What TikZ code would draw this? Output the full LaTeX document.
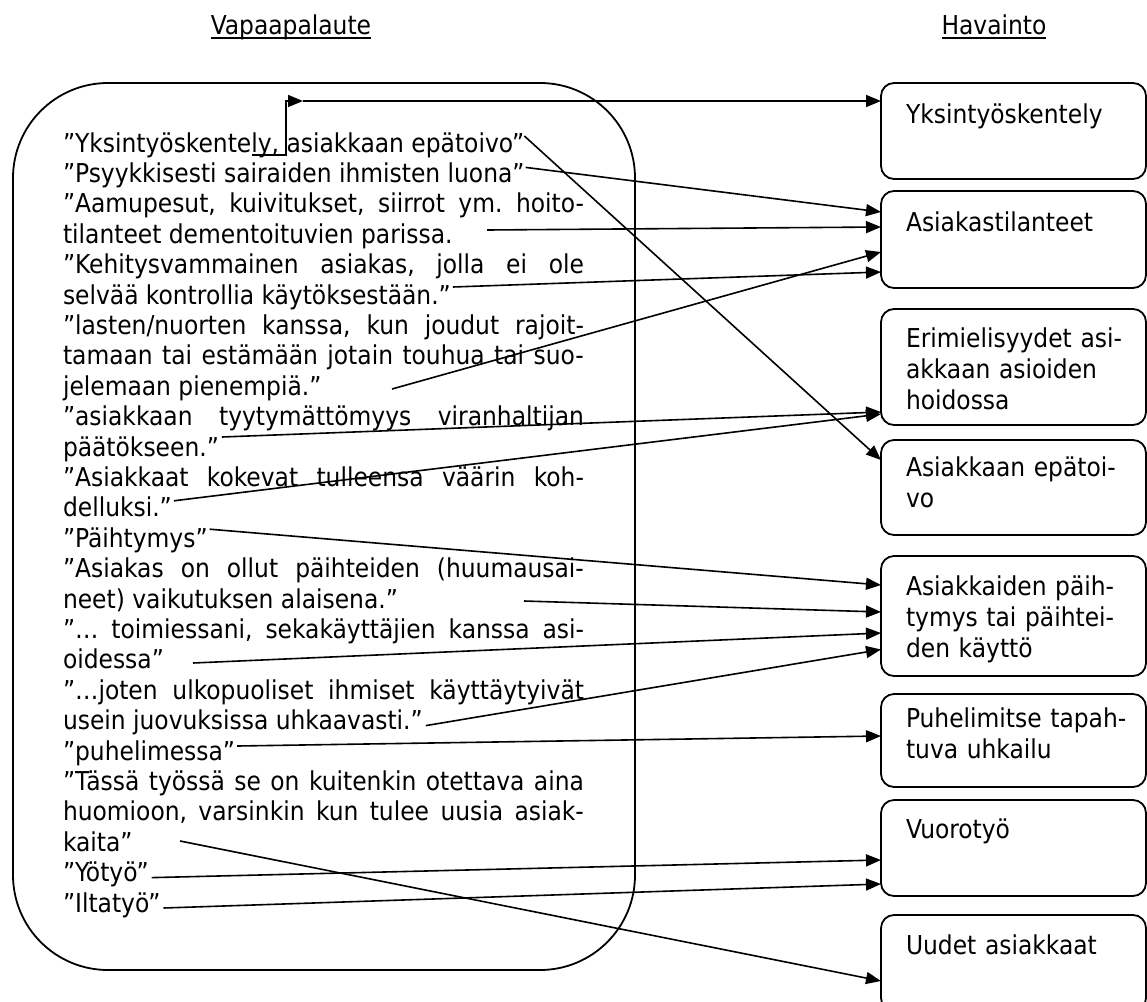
\documentclass[tikz,border=0pt]{standalone}
\usepackage{fontspec}
\setmainfont{DejaVu Sans Condensed}
\usetikzlibrary{arrows.meta}
\newcommand{\jl}[1]{\makebox[521pt][s]{#1}}
\frenchspacing
\begin{document}
\begin{tikzpicture}[x=1pt,y=-1pt,
  txt/.style={anchor=base west,inner sep=0pt,outer sep=0pt,font=\fontsize{26}{30}\selectfont},
  head/.style={anchor=base,inner sep=0pt,outer sep=0pt,font=\fontsize{26}{30}\selectfont},
  frame/.style={draw,line width=1.8pt,rounded corners=95pt},
  rbox/.style={draw,line width=1.8pt,rounded corners=13pt,minimum width=265pt,inner sep=0pt,outer sep=0pt,anchor=north west},
  blab/.style={anchor=base west,inner sep=0pt,outer sep=0pt,align=left,text width=235pt,font=\fontsize{26}{31}\selectfont},
  conn/.style={line width=1.6pt,-{Triangle[length=15pt,width=12pt]}},
  uline/.style={line width=2pt}
]
\useasboundingbox (0,0) rectangle (1147,1001);

% headings
\node[head] (h1) at (291,34) {Vapaapalaute};
\node[head] (h2) at (994,34) {Havainto};
\draw[uline] ([yshift=-4pt]h1.base west) -- ([yshift=-4pt]h1.base east);
\draw[uline] ([yshift=-4pt]h2.base west) -- ([yshift=-4pt]h2.base east);

% big frame
\draw[frame] (13,83) rectangle (635,970);

% text lines
\node[txt] (l1) at (63,152) {”Yksintyöskentely, asiakkaan epätoivo”};
\node[txt] (l2) at (63,182.4) {”Psyykkisesti sairaiden ihmisten luona”};
\node[txt] (l3) at (63,212.8) {\jl{”Aamupesut, kuivitukset, siirrot ym. hoito-}};
\node[txt] (l4) at (63,243.2) {tilanteet dementoituvien parissa.};
\node[txt] (l5) at (63,273.6) {\jl{”Kehitysvammainen asiakas, jolla ei ole}};
\node[txt] (l6) at (63,304) {selvää kontrollia käytöksestään.”};
\node[txt] (l7) at (63,334.4) {\jl{”lasten/nuorten kanssa, kun joudut rajoit-}};
\node[txt] (l8) at (63,364.8) {\jl{tamaan tai estämään jotain touhua tai suo-}};
\node[txt] (l9) at (63,395.2) {jelemaan pienempiä.”};
\node[txt] (l10) at (63,425.6) {\jl{”asiakkaan tyytymättömyys viranhaltijan}};
\node[txt] (l11) at (63,456) {päätökseen.”};
\node[txt] (l12) at (63,486.4) {\jl{”Asiakkaat kokevat tulleensa väärin koh-}};
\node[txt] (l13) at (63,516.8) {delluksi.”};
\node[txt] (l14) at (63,547.2) {”Päihtymys”};
\node[txt] (l15) at (63,577.6) {\jl{”Asiakas on ollut päihteiden (huumausai-}};
\node[txt] (l16) at (63,608) {neet) vaikutuksen alaisena.”};
\node[txt] (l17) at (63,638.4) {\jl{”… toimiessani, sekakäyttäjien kanssa asi-}};
\node[txt] (l18) at (63,668.8) {oidessa”};
\node[txt] (l19) at (63,699.2) {\jl{”…joten ulkopuoliset ihmiset käyttäytyivät}};
\node[txt] (l20) at (63,729.6) {usein juovuksissa uhkaavasti.”};
\node[txt] (l21) at (63,760) {”puhelimessa”};
\node[txt] (l22) at (63,790.4) {\jl{”Tässä työssä se on kuitenkin otettava aina}};
\node[txt] (l23) at (63,820.8) {\jl{huomioon, varsinkin kun tulee uusia asiak-}};
\node[txt] (l24) at (63,851.2) {kaita”};
\node[txt] (l25) at (63,881.6) {”Yötyö”};
\node[txt] (l26) at (63,912) {”Iltatyö”};

% right boxes
\node[rbox,minimum height=96pt] (b1) at (881,83) {};
\node[rbox,minimum height=97pt] (b2) at (881,191) {};
\node[rbox,minimum height=116pt] (b3) at (881,309) {};
\node[rbox,minimum height=95pt] (b4) at (881,440) {};
\node[rbox,minimum height=120pt] (b5) at (881,556) {};
\node[rbox,minimum height=93pt] (b6) at (881,694) {};
\node[rbox,minimum height=96pt] (b7) at (881,800) {};
\node[rbox,minimum height=96pt] (b8) at (881,915) {};

\node[blab] (t1) at (906,123) {Yksintyöskentely};
\node[blab] (t2) at (906,231) {Asiakastilanteet};
\node[blab] (t3) at (906,347) {Erimielisyydet asi-\\akkaan asioiden\\hoidossa};
\node[blab] (t4) at (906,476) {Asiakkaan epätoi-\\vo};
\node[blab] (t5) at (906,595) {Asiakkaiden päih-\\tymys tai päihtei-\\den käyttö};
\node[blab] (t6) at (906,727) {Puhelimitse tapah-\\tuva uhkailu};
\node[blab] (t7) at (906,838) {Vuorotyö};
\node[blab] (t8) at (906,954) {Uudet asiakkaat};

% connector points
\coordinate (e0) at (252,155);
\coordinate (ek) at (286,155);
\coordinate (e1) at (303,101);
\coordinate (s4) at (487,230);
\coordinate (s6) at (392,389);
\coordinate (s10) at (524,601);
\coordinate (s11) at (193,663);
\coordinate (s14) at (180,841);

% connectors
\draw[conn] (e0) -- (ek) |- (e1);
\draw[conn] (e1) -- ([yshift=30pt]b1.west);
\draw[conn] ([yshift=16pt]l1.base east) -- ([yshift=27.5pt]b4.west);
\draw[conn] ([xshift=1pt,yshift=15pt]l2.base east) -- ([yshift=27.5pt]b2.west);
\draw[conn] (s4) -- ([yshift=12.5pt]b2.west);
\draw[conn] ([xshift=2pt,yshift=17pt]l6.base east) -- ([yshift=-32.5pt]b2.west);
\draw[conn] (s6) -- ([yshift=-12.5pt]b2.west);
\draw[conn] ([xshift=3pt,yshift=19pt]l11.base east) -- ([yshift=-45pt]b3.west);
\draw[conn] ([xshift=2pt,yshift=16pt]l13.base east) -- ([yshift=-47pt]b3.west);
\draw[conn] ([xshift=2pt,yshift=18pt]l14.base east) -- ([yshift=31pt]b5.west);
\draw[conn] (s10) -- ([yshift=4pt]b5.west);
\draw[conn] (s11) -- ([yshift=-17pt]b5.west);
\draw[conn] ([xshift=3pt,yshift=4pt]l20.base east) -- ([yshift=-33.5pt]b5.west);
\draw[conn] ([xshift=2pt,yshift=14pt]l21.base east) -- ([yshift=4.5pt]b6.west);
\draw[conn] (s14) -- ([yshift=-18pt]b8.west);
\draw[conn] ([xshift=3pt,yshift=4pt]l25.base east) -- ([yshift=-12pt]b7.west);
\draw[conn] ([xshift=3pt,yshift=4pt]l26.base east) -- ([yshift=-36pt]b7.west);
\end{tikzpicture}
\end{document}
